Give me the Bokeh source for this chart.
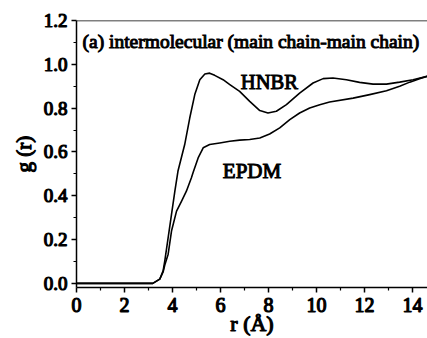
from bokeh.plotting import figure
from bokeh.models import Span, Label, FixedTicker, NumeralTickFormatter, Range1d
from bokeh.embed import file_html
from bokeh.resources import INLINE

# HNBR curve (r in Å, g(r))
hnbr_r = [0.0, 3.18, 3.47, 3.61, 3.68, 3.82, 3.96, 4.10, 4.23, 4.51, 4.72, 4.93, 5.14, 5.35, 5.55,
          5.76, 6.11, 6.39, 6.80, 7.22, 7.64, 7.98, 8.33, 8.75, 9.30, 9.86, 10.28, 10.69, 11.25,
          11.80, 12.36, 12.92, 13.47, 14.03, 14.63]
hnbr_g = [0.0, 0.0, 0.019, 0.057, 0.103, 0.209, 0.315, 0.421, 0.513, 0.634, 0.755, 0.862, 0.930, 0.956, 0.960,
          0.950, 0.930, 0.908, 0.877, 0.831, 0.789, 0.778, 0.786, 0.816, 0.869, 0.915, 0.935, 0.938, 0.930,
          0.918, 0.910, 0.910, 0.919, 0.930, 0.946]

# EPDM curve
epdm_r = [0.0, 3.18, 3.47, 3.61, 3.68, 3.82, 3.96, 4.17, 4.38, 4.58, 4.79, 4.86, 5.07, 5.28, 5.55,
          5.97, 6.39, 6.80, 7.22, 7.64, 8.05, 8.47, 8.89, 9.30, 9.72, 10.14, 10.55, 11.53, 12.22,
          12.92, 13.47, 13.89, 14.30, 14.63]
epdm_g = [0.0, 0.0, 0.019, 0.052, 0.084, 0.133, 0.239, 0.330, 0.376, 0.421, 0.482, 0.506, 0.573, 0.619, 0.634,
          0.641, 0.649, 0.654, 0.657, 0.664, 0.682, 0.710, 0.748, 0.778, 0.801, 0.816, 0.828, 0.846, 0.862,
          0.880, 0.900, 0.919, 0.935, 0.946]

y_ticks = [0.0, 0.2, 0.4, 0.6, 0.8, 1.0, 1.2]
y_minor = [0.1, 0.3, 0.5, 0.7, 0.9, 1.1]
x_ticks = [0, 2, 4, 6, 8, 10, 12, 14]
x_minor = [1, 3, 5, 7, 9, 11, 13]

FONT = "Liberation Serif"

p = figure(width=427, height=338, output_backend="svg", toolbar_location=None,
           x_range=Range1d(0, 14.63), y_range=Range1d(-0.019, 1.2005),
           min_border_left=76, min_border_right=0, min_border_top=20, min_border_bottom=51)
p.outline_line_color = None
p.background_fill_color = "white"
p.border_fill_color = "white"
p.xgrid.visible = False
p.ygrid.visible = False

p.line(hnbr_r, hnbr_g, line_color="black", line_width=1.6, line_join="round")
p.line(epdm_r, epdm_g, line_color="black", line_width=1.6, line_join="round")

top = Span(location=1.2005, dimension="width", line_color="black", line_width=1.5)
p.add_layout(top)

for ax in (p.xaxis[0], p.yaxis[0]):
    ax.axis_line_width = 1.5
    ax.axis_line_color = "black"
    ax.major_tick_line_width = 1.5
    ax.minor_tick_line_width = 1.2
    ax.major_tick_out = 5
    ax.major_tick_in = 0
    ax.minor_tick_out = 3
    ax.minor_tick_in = 0
    ax.major_label_text_font = FONT
    ax.major_label_text_font_style = "normal"
    ax.major_label_text_color = "black"
    ax.major_label_text_outline_color = "black"
    ax.axis_label_text_font = FONT
    ax.axis_label_text_font_style = "normal"
    ax.axis_label_text_color = "black"
    ax.axis_label_text_outline_color = "black"

p.xaxis.ticker = FixedTicker(ticks=x_ticks, minor_ticks=x_minor)
p.yaxis.ticker = FixedTicker(ticks=y_ticks, minor_ticks=y_minor)
p.yaxis.formatter = NumeralTickFormatter(format="0.0")
p.xaxis.major_label_text_font_size = "20px"
p.yaxis.major_label_text_font_size = "19px"
p.xaxis.major_label_standoff = 5
p.yaxis.major_label_standoff = 4
p.xaxis.axis_label = "r (Å)"
p.yaxis.axis_label = "g (r)"
p.xaxis.axis_label_text_font_size = "22px"
p.yaxis.axis_label_text_font_size = "21px"
p.xaxis.axis_label_standoff = -4
p.yaxis.axis_label_standoff = 5

title = Label(x=0.25, y=1.105, text="(a) intermolecular (main chain-main chain)",
              text_font=FONT, text_font_style="normal", text_font_size="19.5px",
              text_color="black", text_outline_color="black", text_baseline="alphabetic")
hn = Label(x=6.85, y=0.920, text="HNBR", text_font=FONT, text_font_style="normal",
           text_font_size="20.5px", text_color="black", text_outline_color="black",
           text_baseline="alphabetic")
ep = Label(x=6.1, y=0.511, text="EPDM", text_font=FONT, text_font_style="normal",
           text_font_size="21px", text_color="black", text_outline_color="black",
           text_baseline="alphabetic")
for l in (title, hn, ep):
    p.add_layout(l)

open("out.html", "w").write(file_html(p, INLINE))
